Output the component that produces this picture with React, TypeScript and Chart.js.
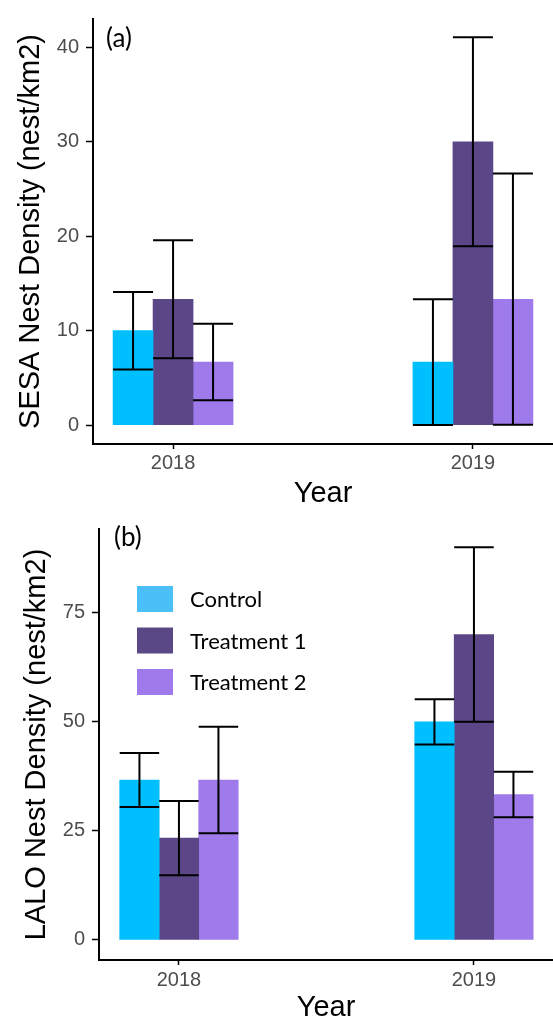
import React, { useEffect, useRef } from 'react';
import { Chart, registerables } from 'chart.js';

Chart.register(...registerables);

// ---------- data ----------
const years = ['2018', '2019'];
const seriesNames = ['Control', 'Treatment 1', 'Treatment 2'];
const barColors = ['#00BFFF', '#5B4788', '#9E7AEA'];
const legendColors = ['#4BC0F8', '#5A4785', '#9E7AEB'];

// (a) SESA nest density
const sesaControl = [10, 6.67];
const sesaT1 = [13.33, 30];
const sesaT2 = [6.67, 13.33];
const sesaControlErr = [4.1, 6.65];
const sesaT1Err = [6.25, 11.07];
const sesaT2Err = [4.05, 13.3];
const sesaTicks = [0, 10, 20, 30, 40];

// (b) LALO nest density
const laloControl = [36.67, 50];
const laloT1 = [23.33, 70];
const laloT2 = [36.67, 33.33];
const laloControlErr = [6.2, 5.2];
const laloT1Err = [8.5, 20];
const laloT2Err = [12.2, 5.2];
const laloTicks = [0, 25, 50, 75];

const AXIS_FONT = "'Liberation Sans', Arial, sans-serif";
const LABEL_FONT = "Lato, 'Noto Sans', sans-serif";

type Panel = {
  width: number;
  height: number;
  values: number[][];
  errors: number[][];
  yTicks: number[];
  yMin: number;
  yMax: number;
  xMin: number;
  xMax: number;
  yTitle: string;
  tag: string;
  tagX: number;
  tagY: number;
  top: number;
  yAxisWidth: number;
  xAxisHeight: number;
  barThickness: number;
  yTitlePad: number;
  yearPad: number;
  xTickPad: number;
  showLegend: boolean;
};

const panels: Panel[] = [
  {
    width: 553,
    height: 510,
    values: [sesaControl, sesaT1, sesaT2],
    errors: [sesaControlErr, sesaT1Err, sesaT2Err],
    yTicks: sesaTicks,
    yMin: -2,
    yMax: 43,
    xMin: 0.733,
    xMax: 2.267,
    yTitle: 'SESA Nest Density (nest/km2)',
    tag: '(a)',
    tagX: 106,
    tagY: 39,
    top: 13,
    yAxisWidth: 93,
    xAxisHeight: 66,
    barThickness: 40,
    yTitlePad: 16,
    yearPad: 1.5,
    xTickPad: 2,
    showLegend: false,
  },
  {
    width: 553,
    height: 513,
    values: [laloControl, laloT1, laloT2],
    errors: [laloControlErr, laloT1Err, laloT2Err],
    yTicks: laloTicks,
    yMin: -4.6,
    yMax: 94.2,
    xMin: 0.729,
    xMax: 2.268,
    yTitle: 'LALO Nest Density (nest/km2)',
    tag: '(b)',
    tagX: 114,
    tagY: 28,
    top: 18,
    yAxisWidth: 99,
    xAxisHeight: 63,
    barThickness: 39.5,
    yTitlePad: 22,
    yearPad: 0.5,
    xTickPad: 3,
    showLegend: true,
  },
];

const errorBarPlugin = {
  id: 'errorBars',
  afterDatasetsDraw(chart: any) {
    const yScale = chart.scales.y;
    const ctx = chart.ctx;
    ctx.save();
    ctx.strokeStyle = '#000';
    ctx.lineWidth = 2;
    chart.data.datasets.forEach((ds: any, i: number) => {
      const meta = chart.getDatasetMeta(i);
      meta.data.forEach((bar: any, j: number) => {
        const v = ds.data[j].y;
        const e = ds.errors[j];
        const yHi = yScale.getPixelForValue(v + e);
        const yLo = yScale.getPixelForValue(v - e);
        const { x, width } = bar.getProps(['x', 'width'], true);
        const half = width / 2;
        ctx.beginPath();
        ctx.moveTo(x, yHi);
        ctx.lineTo(x, yLo);
        ctx.moveTo(x - half, yHi);
        ctx.lineTo(x + half, yHi);
        ctx.moveTo(x - half, yLo);
        ctx.lineTo(x + half, yLo);
        ctx.stroke();
      });
    });
    ctx.restore();
  },
};

function makeOverlay(p: Panel) {
  return {
    id: 'overlay',
    afterDraw(chart: any) {
      const ctx = chart.ctx;
      ctx.save();
      ctx.fillStyle = '#000';
      ctx.textAlign = 'left';
      ctx.textBaseline = 'middle';
      ctx.font = `26px ${LABEL_FONT}`;
      ctx.fillText(p.tag, p.tagX, p.tagY);
      if (p.showLegend) {
        ctx.font = `22px ${LABEL_FONT}`;
        const boxX = 137;
        const boxW = 36;
        const boxH = 26;
        const startY = 76;
        const gap = 41.5;
        chart.data.datasets.forEach((ds: any, i: number) => {
          const y = startY + i * gap;
          ctx.fillStyle = legendColors[i];
          ctx.fillRect(boxX, y, boxW, boxH);
          ctx.fillStyle = '#000';
          ctx.fillText(ds.label, 190, y + boxH / 2 + 1);
        });
      }
      ctx.restore();
    },
  };
}

function PanelChart({ p }: { p: Panel }) {
  const ref = useRef<HTMLCanvasElement>(null);
  useEffect(() => {
    if (!ref.current) return;
    const chart = new Chart(ref.current, {
      type: 'bar',
      data: {
        datasets: seriesNames.map((name, i) => ({
          label: name,
          data: years.map((_, j) => ({ x: j + 1, y: p.values[i][j] })),
          errors: p.errors[i],
          backgroundColor: barColors[i],
          borderWidth: 0,
          barThickness: p.barThickness,
        })) as any,
      },
      options: {
        animation: false,
        responsive: false,
        devicePixelRatio: 1,
        layout: { padding: { top: p.top, left: 0, right: 0, bottom: 0 } },
        plugins: {
          legend: { display: false },
          tooltip: { enabled: false },
        },
        scales: {
          x: {
            type: 'linear',
            min: p.xMin,
            max: p.xMax,
            offset: false,
            afterBuildTicks: (scale: any) => {
              scale.ticks = years.map((_, j) => ({ value: j + 1 }));
            },
            afterFit: (scale: any) => {
              scale.height = p.xAxisHeight;
            },
            ticks: {
              callback: (value: any) => years[Math.round(Number(value)) - 1] ?? '',
              color: '#4d4d4d',
              font: { family: AXIS_FONT, size: 20 },
              padding: p.xTickPad,
              maxRotation: 0,
              autoSkip: false,
            },
            grid: {
              display: true,
              offset: false,
              drawOnChartArea: false,
              drawTicks: true,
              tickLength: 5,
              tickColor: '#000',
              tickWidth: 1.5,
              color: '#000',
            },
            border: { display: true, color: '#000', width: 2 },
            title: {
              display: true,
              text: 'Year',
              color: '#000',
              font: { family: AXIS_FONT, size: 29, lineHeight: 1 },
              padding: { top: 0, bottom: p.yearPad },
            },
          },
          y: {
            type: 'linear',
            min: p.yMin,
            max: p.yMax,
            afterBuildTicks: (scale: any) => {
              scale.ticks = p.yTicks.map((v) => ({ value: v }));
            },
            afterFit: (scale: any) => {
              scale.width = p.yAxisWidth;
            },
            ticks: {
              color: '#4d4d4d',
              font: { family: AXIS_FONT, size: 20 },
              padding: 7,
              callback: (value: any) => String(value),
            },
            grid: {
              display: true,
              drawOnChartArea: false,
              drawTicks: true,
              tickLength: 7,
              tickColor: '#000',
              tickWidth: 1.5,
              color: '#000',
            },
            border: { display: true, color: '#000', width: 2 },
            title: {
              display: true,
              text: p.yTitle,
              color: '#000',
              font: { family: AXIS_FONT, size: 29, lineHeight: 1 },
              padding: { top: p.yTitlePad, bottom: 0 },
            },
          },
        },
      } as any,
      plugins: [errorBarPlugin, makeOverlay(p)],
    });
    return () => chart.destroy();
  }, [p]);
  return (
    <canvas
      ref={ref}
      width={p.width}
      height={p.height}
      style={{ display: 'block', width: p.width, height: p.height }}
    />
  );
}

export default function App() {
  return (
    <div style={{ position: 'fixed', left: 0, top: 0, width: 553, height: 1023, background: '#fff' }}>
      {panels.map((p, i) => (
        <PanelChart key={i} p={p} />
      ))}
    </div>
  );
}
